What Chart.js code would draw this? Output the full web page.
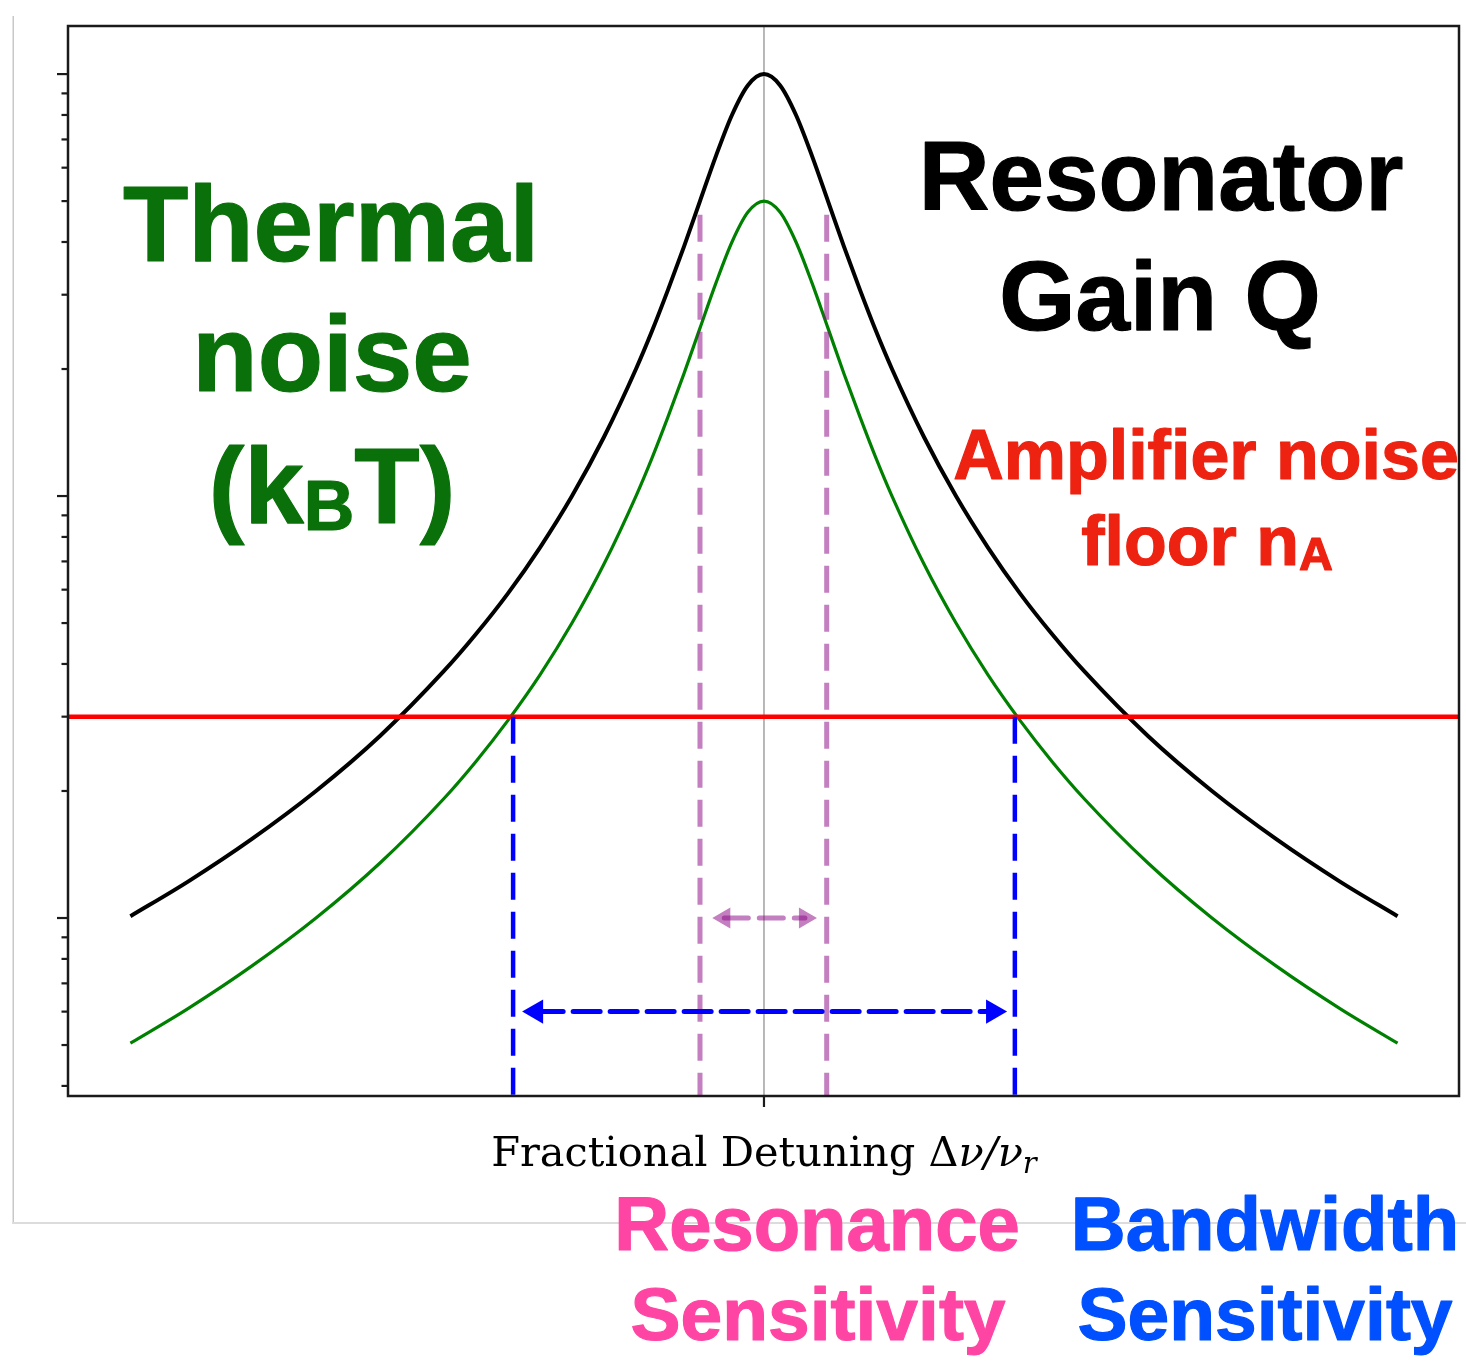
<!DOCTYPE html>
<html>
<head>
<meta charset="utf-8">
<script src="https://cdn.jsdelivr.net/npm/chart.js@4.4.1/dist/chart.umd.min.js"></script>
<style>
html,body{margin:0;padding:0;background:#fff;}
canvas{display:block;}
</style>
</head>
<body>
<canvas id="c" width="1466" height="1366"></canvas>
<script>
// ---- data ----
const detuning = [-9.9,-9,-8,-7,-6,-5,-4.5,-4,-3.5,-3,-2.5,-2,-1.75,-1.5,-1.25,-1,-0.75,-0.5,-0.25,0,0.25,0.5,0.75,1,1.25,1.5,1.75,2,2.5,3,3.5,4,4.5,5,6,7,8,9,9.9];
const resonatorGain = [1.01,1.22,1.54,2.00,2.70,3.85,4.71,5.88,7.55,10.0,13.8,20.0,24.6,30.8,39.0,50.0,64.0,80.0,94.1,100,94.1,80.0,64.0,50.0,39.0,30.8,24.6,20.0,13.8,10.0,7.55,5.88,4.71,3.85,2.70,2.00,1.54,1.22,1.01];
const thermalNoise = [0.505,0.61,0.77,1.00,1.35,1.92,2.35,2.94,3.77,5.00,6.90,10.0,12.3,15.4,19.5,25.0,32.0,40.0,47.1,50.0,47.1,40.0,32.0,25.0,19.5,15.4,12.3,10.0,6.90,5.00,3.77,2.94,2.35,1.92,1.35,1.00,0.77,0.61,0.505];
const amplifierFloor = 3;
const xRange = [-10.875, 10.86];
const yRange = [0.3786, 130];
const bandwidthEdges = [-3.92, 3.92];
const resonanceEdges = [-1.0, 0.98];
const resonanceLineTop = 47;
const lineBottom = 0.3;
const bandwidthArrowX = [-3.56, 3.58];
const bandwidthArrowY = 0.6;
const resonanceArrowX = [-0.62, 0.64];
const resonanceArrowY = 1.0;
const yTickValues = [0.4,0.5,0.6,0.7,0.8,0.9,1,2,3,4,5,6,7,8,9,10,20,30,40,50,60,70,80,90,100];
const yMajorTicks = [1,10,100];
const xTickValues = [0];
const xAxisLabel = ['Fractional Detuning Δ', 'ν/ν', 'r'];

// ---- datasets ----
const pts = (xs, ys) => xs.map((x, i) => ({x, y: ys[i]}));
const PURPLE = 'rgba(140,10,135,0.52)';
const datasets = [
  {label:'center', data:[{x:0,y:yRange[0]},{x:0,y:yRange[1]}], borderColor:'rgba(128,128,128,0.75)', borderWidth:1.5, order:9},
  {label:'Resonator gain', data:pts(detuning, resonatorGain), borderColor:'#000000', borderWidth:4, cubicInterpolationMode:'monotone', order:8},
  {label:'Thermal noise', data:pts(detuning, thermalNoise), borderColor:'#008000', borderWidth:3.2, cubicInterpolationMode:'monotone', order:7},
  {label:'Amplifier floor', data:[{x:xRange[0],y:amplifierFloor},{x:xRange[1],y:amplifierFloor}], borderColor:'#ff0000', borderWidth:4.5, order:6},
  {label:'res L', data:[{x:resonanceEdges[0],y:lineBottom},{x:resonanceEdges[0],y:resonanceLineTop}], borderColor:PURPLE, borderWidth:5, borderDash:[27,12], order:5},
  {label:'res R', data:[{x:resonanceEdges[1],y:lineBottom},{x:resonanceEdges[1],y:resonanceLineTop}], borderColor:PURPLE, borderWidth:5, borderDash:[27,12], order:5},
  {label:'bw L', data:[{x:bandwidthEdges[0],y:amplifierFloor},{x:bandwidthEdges[0],y:lineBottom}], borderColor:'#0000ff', borderWidth:4.5, borderDash:[27,12], order:4},
  {label:'bw R', data:[{x:bandwidthEdges[1],y:amplifierFloor},{x:bandwidthEdges[1],y:lineBottom}], borderColor:'#0000ff', borderWidth:4.5, borderDash:[27,12], order:4},
  {label:'res arrow', data:pts(resonanceArrowX, [resonanceArrowY, resonanceArrowY]), borderColor:PURPLE, borderWidth:5, borderDash:[24,11], borderCapStyle:'round',
    pointStyle:'triangle', pointRadius:12, pointRotation:[-90,90], pointBackgroundColor:PURPLE, pointBorderWidth:0, order:3},
  {label:'bw arrow', data:pts(bandwidthArrowX, [bandwidthArrowY, bandwidthArrowY]), borderColor:'#0000ff', borderWidth:5, borderDash:[27,10], borderCapStyle:'round',
    pointStyle:'triangle', pointRadius:14, pointRotation:[-90,90], pointBackgroundColor:'#0000ff', pointBorderWidth:0, order:2}
];
datasets.forEach(d => { if (d.pointRadius === undefined) d.pointRadius = 0; d.fill = false; if (!d.cubicInterpolationMode) d.tension = 0; });

// ---- text annotations (drawn as canvas text) ----
const HF = '"Liberation Sans", Arial, Helvetica, sans-serif';
const annotations = [
  {color:'#0a700a', cx:331, y:261, parts:[['Thermal',107,0]]},
  {color:'#0a700a', cx:332, y:391, parts:[['noise',107,0]]},
  {color:'#0a700a', cx:332, y:523, parts:[['(k',107,0],['B',70,7],['T)',107,0]]},
  {color:'#000000', cx:1161, y:210, parts:[['Resonator',98,0]]},
  {color:'#000000', cx:1160, y:330, parts:[['Gain Q',98,0]]},
  {color:'#ee2211', cx:1206, y:479, parts:[['Amplifier noise',70,0]]},
  {color:'#ee2211', cx:1207, y:565, parts:[['floor n',70,0],['A',47,5]]},
  {color:'#ff45a3', cx:817, y:1250, parts:[['Resonance',76,0]]},
  {color:'#ff45a3', cx:818, y:1340, parts:[['Sensitivity',75,0]]},
  {color:'#0050ff', cx:1265, y:1250, parts:[['Bandwidth',76,0]]},
  {color:'#0050ff', cx:1265, y:1340, parts:[['Sensitivity',75,0]]}
];

function drawParts(ctx, a) {
  ctx.save();
  ctx.fillStyle = a.color;
  ctx.strokeStyle = a.color;
  ctx.lineWidth = 1.2;
  ctx.lineJoin = 'round';
  ctx.textBaseline = 'alphabetic';
  ctx.textAlign = 'left';
  let total = 0;
  a.parts.forEach(p => { ctx.font = 'bold ' + p[1] + 'px ' + HF; total += ctx.measureText(p[0]).width; });
  let x = a.cx - total / 2;
  a.parts.forEach(p => {
    ctx.font = 'bold ' + p[1] + 'px ' + HF;
    ctx.fillText(p[0], x, a.y + p[2]);
    ctx.strokeText(p[0], x, a.y + p[2]);
    x += ctx.measureText(p[0]).width;
  });
  ctx.restore();
}

const decor = {
  id: 'decor',
  beforeDraw(chart) {
    const ctx = chart.ctx;
    ctx.save();
    ctx.fillStyle = '#ffffff';
    ctx.fillRect(0, 0, chart.width, chart.height);
    ctx.fillStyle = '#c8c8c8';
    ctx.fillRect(12.5, 16, 1.5, 1208);
    ctx.fillStyle = '#dcdcdc';
    ctx.fillRect(12.5, 1222, 1454, 2);
    ctx.restore();
  },
  afterDatasetsDraw(chart) {
    const ctx = chart.ctx;
    const {left, right, top, bottom} = chart.chartArea;
    const ys = chart.scales.y, xs = chart.scales.x;
    ctx.save();
    // frame
    ctx.strokeStyle = '#1a1a1a';
    ctx.lineWidth = 2.5;
    ctx.strokeRect(left, top, right - left, bottom - top);
    // y ticks
    ctx.lineWidth = 2.2;
    yTickValues.forEach(v => {
      const py = ys.getPixelForValue(v);
      const len = yMajorTicks.includes(v) ? 11 : 6.5;
      ctx.beginPath(); ctx.moveTo(left - len, py); ctx.lineTo(left, py); ctx.stroke();
    });
    // x ticks
    xTickValues.forEach(v => {
      const px = xs.getPixelForValue(v);
      ctx.beginPath(); ctx.moveTo(px, bottom); ctx.lineTo(px, bottom + 11); ctx.stroke();
    });
    // x axis label
    ctx.fillStyle = '#000';
    ctx.textBaseline = 'alphabetic';
    ctx.textAlign = 'left';
    const f1 = '41.5px "DejaVu Serif", serif', f2 = 'italic 41.5px "DejaVu Serif", serif', f3 = 'italic 29px "DejaVu Serif", serif';
    ctx.font = f1; const w1 = ctx.measureText(xAxisLabel[0]).width;
    ctx.font = f2; const w2 = ctx.measureText(xAxisLabel[1]).width;
    ctx.font = f3; const w3 = ctx.measureText(xAxisLabel[2]).width;
    let lx = xs.getPixelForValue(0) - (w1 + w2 + w3) / 2;
    const by = 1166;
    ctx.font = f1; ctx.fillText(xAxisLabel[0], lx, by); lx += w1;
    ctx.font = f2; ctx.fillText(xAxisLabel[1], lx, by); lx += w2;
    ctx.font = f3; ctx.fillText(xAxisLabel[2], lx, by + 7);
    ctx.restore();
    annotations.forEach(a => drawParts(ctx, a));
  }
};

new Chart(document.getElementById('c'), {
  type: 'line',
  data: { datasets },
  options: {
    responsive: false,
    animation: false,
    events: [],
    layout: { autoPadding: false, padding: { left: 68, right: 7, top: 26, bottom: 270 } },
    plugins: { legend: { display: false }, tooltip: { enabled: false }, title: { display: false } },
    scales: {
      x: { type: 'linear', display: false, min: xRange[0], max: xRange[1] },
      y: { type: 'logarithmic', display: false, min: yRange[0], max: yRange[1] }
    }
  },
  plugins: [decor]
});
</script>
</body>
</html>
